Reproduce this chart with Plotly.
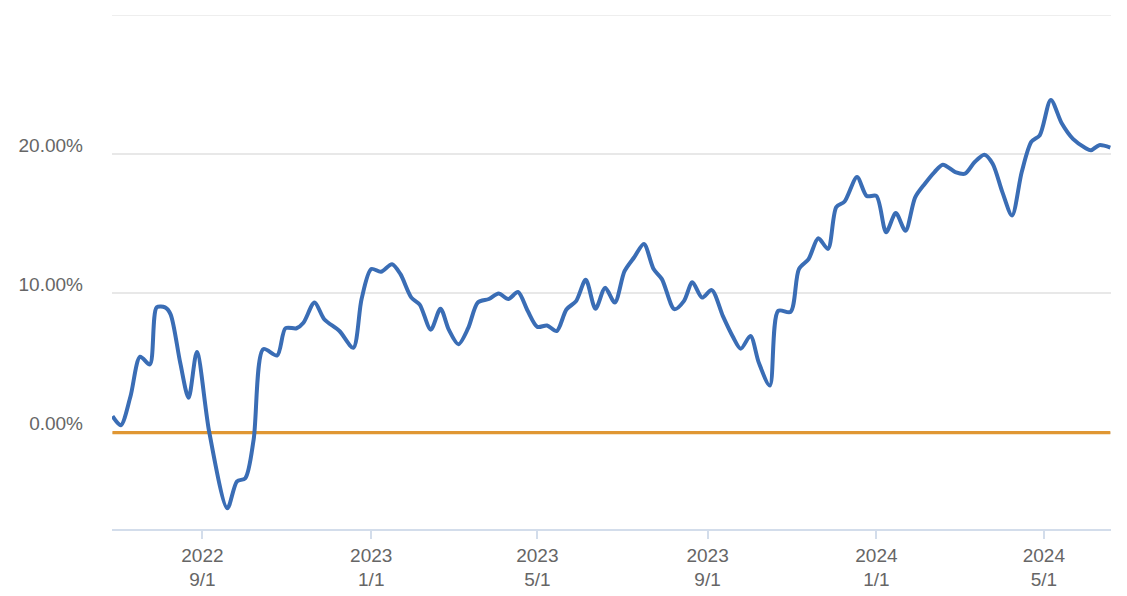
import plotly.graph_objects as go

dates = [
    "2022-06-28", "2022-07-04", "2022-07-11", "2022-07-18", "2022-07-25", "2022-07-30",
    "2022-08-05", "2022-08-09", "2022-08-16", "2022-08-22", "2022-08-28", "2022-09-06",
    "2022-09-19", "2022-09-26", "2022-10-02", "2022-10-08", "2022-10-15", "2022-10-25",
    "2022-10-31", "2022-11-08", "2022-11-13", "2022-11-21", "2022-11-28", "2022-12-09",
    "2022-12-19", "2022-12-25", "2023-01-01", "2023-01-08", "2023-01-16", "2023-01-22",
    "2023-01-30", "2023-02-05", "2023-02-13", "2023-02-20", "2023-02-26", "2023-03-05",
    "2023-03-12", "2023-03-19", "2023-03-27", "2023-04-03", "2023-04-10", "2023-04-17",
    "2023-04-24", "2023-05-01", "2023-05-08", "2023-05-15", "2023-05-22", "2023-05-29",
    "2023-06-05", "2023-06-12", "2023-06-19", "2023-06-26", "2023-07-03", "2023-07-10",
    "2023-07-17", "2023-07-24", "2023-07-30", "2023-08-08", "2023-08-15", "2023-08-21",
    "2023-08-28", "2023-09-04", "2023-09-12", "2023-09-19", "2023-09-25", "2023-10-02",
    "2023-10-08", "2023-10-16", "2023-10-22", "2023-10-31", "2023-11-06", "2023-11-13",
    "2023-11-20", "2023-11-27", "2023-12-03", "2023-12-09", "2023-12-18", "2023-12-25",
    "2024-01-01", "2024-01-08", "2024-01-15", "2024-01-22", "2024-01-29", "2024-02-05",
    "2024-02-12", "2024-02-18", "2024-02-27", "2024-03-05", "2024-03-12", "2024-03-19",
    "2024-03-25", "2024-04-01", "2024-04-08", "2024-04-15", "2024-04-22", "2024-04-28",
    "2024-05-06", "2024-05-14", "2024-05-22", "2024-05-31", "2024-06-04", "2024-06-10",
    "2024-06-18",
]

returns = [
    1.18, 0.53, 2.6, 5.46, 4.9, 9.0,
    9.0, 8.5, 5.0, 2.5, 5.8, 0.0,
    -5.43, -3.5, -3.27, -0.5, 6.0, 5.55,
    7.5, 7.5, 7.9, 9.35, 8.15, 7.3,
    6.1, 9.6, 11.75, 11.56, 12.1, 11.4,
    9.7, 9.2, 7.4, 8.9, 7.4, 6.35,
    7.5, 9.35, 9.6, 10.0, 9.6, 10.1,
    8.75, 7.6, 7.7, 7.3, 8.85, 9.45,
    10.98, 8.9, 10.4, 9.35, 11.6, 12.6,
    13.55, 11.75, 11.03, 8.87, 9.47, 10.8,
    9.7, 10.24, 8.39, 6.95, 6.03, 6.95,
    5.03, 3.39, 8.75, 8.68, 11.75, 12.47,
    13.96, 13.2, 16.2, 16.6, 18.36, 17.0,
    17.0, 14.4, 15.77, 14.5, 16.9, 17.88,
    18.72, 19.25, 18.72, 18.6, 19.44, 19.97,
    19.32, 17.28, 15.6, 18.72, 20.9, 21.36,
    23.9, 22.2, 21.1, 20.45, 20.28, 20.65,
    20.48,
]

baseline = [0.0 for _ in dates]

x_tick_vals = ["2022-09-01", "2023-01-01", "2023-05-01", "2023-09-01", "2024-01-01", "2024-05-01"]
x_tick_text = ["2022<br>9/1", "2023<br>1/1", "2023<br>5/1", "2023<br>9/1", "2024<br>1/1", "2024<br>5/1"]
y_tick_vals = [0, 10, 20]
y_tick_text = ["0.00%", "10.00%", "20.00%"]

font_family = "Liberation Sans, Arial, Helvetica, sans-serif"
label_size = 19

fig = go.Figure()
fig.add_trace(go.Scatter(
    x=dates, y=baseline, mode="lines",
    line=dict(color="#E09733", width=3.2),
    hoverinfo="skip", showlegend=False,
))
fig.add_trace(go.Scatter(
    x=dates, y=returns, mode="lines",
    line=dict(color="#3A6DB5", width=4, shape="spline", smoothing=0.8),
    showlegend=False,
))

fig.add_shape(type="line", xref="paper", yref="y", x0=0, x1=1, y0=30, y1=30,
              line=dict(color="#E8E8E8", width=1.5), layer="below")

fig.update_layout(
    width=1127, height=596,
    margin=dict(l=112, r=16, t=15, b=67, autoexpand=False),
    paper_bgcolor="white", plot_bgcolor="white",
    font=dict(family=font_family, size=label_size, color="#666666"),
    showlegend=False,
)
fig.update_xaxes(
    type="date", automargin=False,
    range=["2022-06-27 16:00", "2024-06-18 12:00"],
    tickvals=x_tick_vals, ticktext=x_tick_text,
    showgrid=False, zeroline=False,
    showline=True, linecolor="#D3DDEB", linewidth=1.5,
    ticks="outside", ticklen=8, tickcolor="#D3DDEB", tickwidth=1.5,
    tickfont=dict(size=label_size, color="#666666"),
)
fig.update_yaxes(
    automargin=False,
    range=[-6.92, 30],
    tickvals=y_tick_vals, ticktext=y_tick_text,
    showgrid=True, gridcolor="#E8E8E8", gridwidth=1.5,
    zeroline=False, showline=False,
    ticks="", ticklabelstandoff=28, ticklabelshift=-9,
    tickfont=dict(size=label_size, color="#666666"),
)

fig.write_html("out.html", config={"displayModeBar": False},
               post_script="document.body.style.margin='0';")
